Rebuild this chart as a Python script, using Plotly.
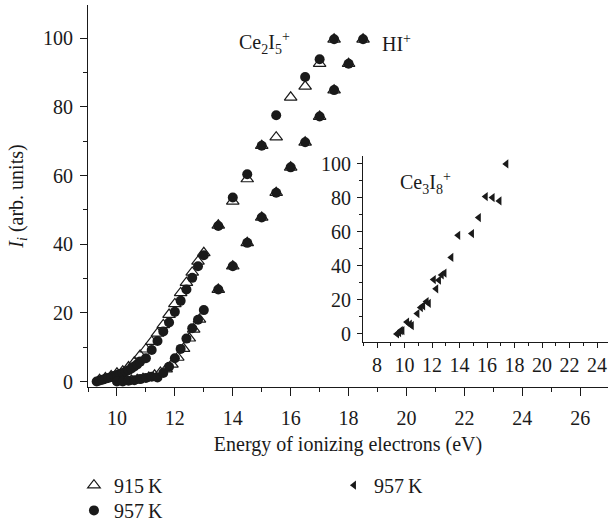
import plotly.graph_objects as go

# ---- Data ----
# Ce2I5+ , 915 K (open triangles)
ce2_915_x = [9.4, 9.6, 9.8, 10.0, 10.2, 10.4, 10.6, 10.8, 11.0, 11.2, 11.4, 11.6, 11.8,
             12.0, 12.2, 12.4, 12.6, 12.8, 13.0, 13.5, 14.0, 14.5, 15.0, 15.5, 16.0, 16.5, 17.0, 17.5]
ce2_915_y = [0.5, 1.0, 1.6, 2.4, 3.0, 4.2, 5.6, 7.6, 9.4, 11.6, 14.0, 16.5, 19.5,
             22.6, 25.8, 28.8, 31.8, 35.0, 37.5, 45.5, 52.5, 59.0, 68.7, 71.2, 82.8, 86.0, 92.6, 99.7]
# Ce2I5+ , 957 K (filled circles)
ce2_957_x = [9.3, 9.4, 9.5, 9.6, 9.7, 9.8, 9.9, 10.0, 10.1, 10.2, 10.3, 10.4, 10.5, 10.6, 10.7,
             10.8, 11.0, 11.2, 11.4, 11.6, 11.8, 12.0, 12.2, 12.4, 12.6, 12.8, 13.0,
             13.5, 14.0, 14.5, 15.0, 15.5, 16.5, 17.0, 17.5]
ce2_957_y = [0.0, 0.3, 0.5, 0.8, 1.0, 1.3, 1.6, 1.9, 2.2, 2.5, 2.9, 3.3, 3.8, 4.4, 5.0,
             5.8, 6.8, 9.2, 11.8, 14.6, 17.2, 20.3, 23.5, 26.8, 30.2, 33.6, 36.8,
             45.3, 53.6, 60.4, 68.7, 77.6, 88.7, 93.9, 99.7]
# HI+ , 915 K (open triangles)
hi_915_x = [10.1, 10.3, 10.5, 10.7, 10.9, 11.1, 11.3, 11.5, 11.7, 11.9, 12.1, 12.3, 12.5,
            12.65, 12.85, 13.5, 14.0, 14.5, 15.0, 15.5, 16.0, 16.5, 17.0, 17.5, 18.0, 18.5]
hi_915_y = [0.0, 0.1, 0.3, 0.5, 0.8, 1.2, 1.8, 2.6, 3.6, 5.0, 7.0, 9.6, 12.6,
            15.2, 18.1, 26.8, 33.6, 40.4, 47.8, 55.0, 62.4, 69.7, 77.2, 84.9, 92.6, 99.7]
# HI+ , 957 K (filled circles)
hi_957_x = [10.0, 10.2, 10.4, 10.6, 10.8, 11.0, 11.2, 11.4, 11.6, 11.8, 12.0, 12.2, 12.4,
            12.6, 12.8, 13.0, 13.5, 14.0, 14.5, 15.0, 15.5, 16.0, 16.5, 17.0, 17.5, 18.0, 18.5]
hi_957_y = [0.0, 0.0, 0.2, 0.4, 0.7, 1.0, 1.4, 1.2, 2.5, 4.3, 6.8, 9.5, 12.5,
            15.5, 18.0, 20.8, 26.8, 33.6, 40.4, 47.8, 55.0, 62.4, 69.7, 77.2, 84.9, 92.6, 99.7]
# Ce3I8+ , 957 K (inset, left triangles)
ce3_x = [9.45, 9.6, 9.72, 9.84, 10.18, 10.38, 10.52, 10.93, 11.18, 11.35, 11.6, 11.76,
         12.12, 12.3, 12.5, 12.7, 12.9, 13.4, 13.9, 14.9, 15.4, 15.9, 16.4, 16.9, 17.4]
ce3_y = [0.0, 0.8, 2.0, 2.0, 7.0, 5.7, 4.9, 12.0, 15.5, 16.5, 19.0, 18.0,
         32.0, 26.5, 31.6, 34.7, 35.7, 45.0, 58.0, 59.0, 68.4, 80.8, 80.2, 78.2, 100.0]

main_xticks = [10, 12, 14, 16, 18, 20, 22, 24, 26]
main_yticks = [0, 20, 40, 60, 80, 100]
inset_xticks = [8, 10, 12, 14, 16, 18, 20, 22, 24]
inset_yticks = [0, 20, 40, 60, 80, 100]

FONT = "Liberation Serif"
INK = "#1a1a1a"
FS = 20

fig = go.Figure()

tri = dict(symbol="triangle-up-open", size=11, color=INK, line=dict(width=1.2, color=INK))
circ = dict(symbol="circle", size=10, color=INK)

fig.add_trace(go.Scatter(x=ce2_915_x, y=ce2_915_y, mode="markers", marker=tri,
                         name="915\u2009K", legend="legend"))
fig.add_trace(go.Scatter(x=hi_915_x, y=hi_915_y, mode="markers", marker=tri,
                         showlegend=False))
fig.add_trace(go.Scatter(x=ce2_957_x, y=ce2_957_y, mode="markers", marker=circ,
                         name="957\u2009K", legend="legend3"))
fig.add_trace(go.Scatter(x=hi_957_x, y=hi_957_y, mode="markers", marker=circ,
                         showlegend=False))
fig.add_trace(go.Scatter(x=ce3_x, y=ce3_y, mode="markers", xaxis="x2", yaxis="y2",
                         marker=dict(symbol="triangle-left", size=8, color=INK),
                         name="957\u2009K", legend="legend2"))

def ax(ticklen, standoff, **kw):
    d = dict(showgrid=False, zeroline=False, showline=True, linecolor=INK, linewidth=1,
             ticks="outside", ticklen=ticklen, tickwidth=1, tickcolor=INK,
             ticklabelstandoff=standoff, automargin=False,
             tickfont=dict(family=FONT, size=FS, color=INK))
    d.update(kw)
    return d

def leg(x, y):
    return dict(x=x, y=y, xanchor="left", yanchor="top", orientation="v",
                font=dict(family=FONT, size=FS), bgcolor="rgba(0,0,0,0)", itemwidth=30)

fig.update_layout(
    width=608, height=523,
    margin=dict(l=88, r=0, t=5, b=136, autoexpand=False),
    paper_bgcolor="white", plot_bgcolor="white",
    font=dict(family=FONT, size=FS, color=INK),
    xaxis=ax(8, 5, range=[9.0, 26.96], tickvals=main_xticks,
             minor=dict(dtick=1, tick0=9, ticks="outside", ticklen=4, tickcolor=INK),
             title=dict(text="Energy of ionizing electrons (eV)", font=dict(family=FONT, size=FS),
                        standoff=8)),
    yaxis=ax(7, 3, range=[-1.6, 109.7], tickvals=main_yticks,
             minor=dict(dtick=10, tick0=0, ticks="outside", ticklen=4, tickcolor=INK),
             title=dict(text="<i>I</i><sub><i>i</i></sub> (arb. units)", font=dict(family=FONT, size=FS),
                        standoff=14)),
    xaxis2=ax(5, 0, domain=[0.529, 1.0], anchor="y2", range=[6.98, 24.8], tickvals=inset_xticks,
              minor=dict(dtick=1, tick0=7, ticks="outside", ticklen=3, tickcolor=INK)),
    yaxis2=ax(5, 2, domain=[0.118, 0.605], anchor="x2", range=[-4.7, 104.7], tickvals=inset_yticks,
              minor=dict(dtick=10, tick0=0, ticks="outside", ticklen=3, tickcolor=INK)),
    legend=leg(-0.027, -0.206),
    legend3=leg(-0.027, -0.272),
    legend2=leg(0.473, -0.206),
    annotations=[
        dict(x=15.11, y=98.6, xref="x", yref="y", showarrow=False,
             text="Ce<sub>2</sub>I<sub>5</sub><sup>+</sup>", font=dict(family=FONT, size=FS)),
        dict(x=19.67, y=98.6, xref="x", yref="y", showarrow=False,
             text="HI<sup>+</sup>", font=dict(family=FONT, size=FS)),
        dict(x=11.49, y=88.8, xref="x2", yref="y2", showarrow=False,
             text="Ce<sub>3</sub>I<sub>8</sub><sup>+</sup>", font=dict(family=FONT, size=FS)),
    ],
)

fig.write_html("out.html")
